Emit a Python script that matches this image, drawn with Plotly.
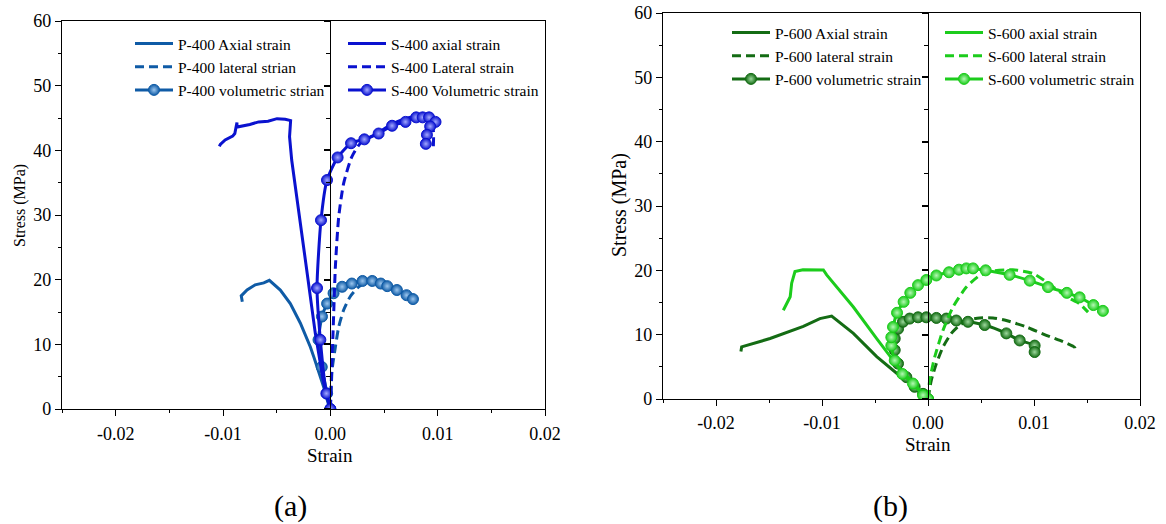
import plotly.graph_objects as go

# ---------------- data (strain, stress MPa) ----------------
# Panel (a) 400
p400_axial_x = [0, -0.00016, -0.00062, -0.0011, -0.00155, -0.00186, -0.0028, -0.00373, -0.00466,
                -0.00568, -0.0062, -0.007, -0.00776, -0.0083, -0.0082]
p400_axial_y = [0, 0.6, 3.4, 6.0, 8.1, 9.6, 13.3, 16.3, 18.4, 19.9, 19.5, 19.2, 18.4, 17.5, 16.6]

p400_lat_x = [0, 0.00008, 0.00016, 0.00047, 0.00078, 0.00124, 0.00186, 0.00264, 0.0034, 0.0039,
              0.0047, 0.0053, 0.0062, 0.0071, 0.0078]
p400_lat_y = [0, 3.0, 6.0, 9.6, 12.7, 15.3, 17.4, 18.9, 19.7, 19.8, 19.4, 19.0, 18.4, 17.6, 16.9]

p400_vol_x = [0, -0.0003, -0.0008, -0.0011, -0.00078, -0.0003, 0.0003, 0.0011, 0.002, 0.003,
              0.0039, 0.0047, 0.0053, 0.0062, 0.0071, 0.0077]
p400_vol_y = [0, 2.4, 6.5, 10.7, 14.3, 16.3, 17.9, 18.9, 19.4, 19.8, 19.8, 19.4, 19.0, 18.4, 17.6, 17.0]

s400_axial_x = [0, -0.00006, -0.00062, -0.0014, -0.00224, -0.0031, -0.0036, -0.0038, -0.0037,
                -0.0042, -0.00497, -0.0058, -0.00668, -0.0075, -0.0087, -0.0087, -0.0089, -0.0091,
                -0.0098, -0.01025, -0.01034]
s400_axial_y = [0, 0.5, 4.0, 11.7, 22.0, 32.3, 38.5, 42.1, 44.6, 44.8, 44.9, 44.5, 44.4, 44.0,
                43.6, 44.3, 42.6, 42.2, 41.6, 40.9, 40.6]

s400_lat_x = [0, 0.0001, 0.00025, 0.00047, 0.00078, 0.00124, 0.002, 0.0028, 0.00435, 0.0059,
              0.00776, 0.0093, 0.0096, 0.0096]
s400_lat_y = [0, 5.0, 11.7, 22.0, 29.7, 34.9, 39.0, 41.1, 42.6, 44.2, 45.2, 44.5, 43.0, 40.6]

s400_vol_x = [0, -0.00037, -0.00093, -0.00124, -0.00087, -0.00031, 0.00068, 0.00193, 0.00317,
              0.0045, 0.00575, 0.007, 0.0080, 0.0086, 0.0092, 0.0098, 0.0093, 0.009, 0.0089]
s400_vol_y = [0, 2.4, 10.7, 18.7, 29.2, 35.4, 38.9, 41.1, 41.7, 42.6, 43.8, 44.4, 45.1, 45.1,
              45.1, 44.4, 43.7, 42.4, 41.0]

# Panel (b) 600
p600_axial_x = [0, -0.00075, -0.00142, -0.00296, -0.00484, -0.00704, -0.00909, -0.0102, -0.01176,
                -0.0149, -0.01758, -0.01765]
p600_axial_y = [0, 1.1, 2.4, 4.0, 6.6, 10.2, 12.9, 12.5, 11.3, 9.4, 8.1, 7.4]

p600_lat_x = [0, 0.00031, 0.00079, 0.00142, 0.0022, 0.003, 0.00393, 0.00487, 0.00613, 0.00739,
              0.00928, 0.01116, 0.01274, 0.01384, 0.01384]
p600_lat_y = [0, 2.9, 5.5, 8.1, 10.2, 11.5, 12.3, 12.6, 12.6, 12.2, 11.2, 9.9, 8.9, 8.0, 7.2]

p600_vol_x = [0, -0.00047, -0.00126, -0.00204, -0.00283, -0.00314, -0.00314, -0.00283, -0.00236,
              -0.00173, -0.00094, -0.00016, 0.00079, 0.00173, 0.00267, 0.00377, 0.00535, 0.00739,
              0.00865, 0.01006, 0.01006]
p600_vol_y = [0, 0.8, 1.9, 3.4, 5.5, 7.6, 9.4, 10.9, 12.0, 12.5, 12.7, 12.7, 12.6, 12.5, 12.2,
              12.0, 11.5, 10.2, 9.1, 8.3, 7.3]

s600_axial_x = [0, -0.00107, -0.00296, -0.00484, -0.00704, -0.00956, -0.00987, -0.0118, -0.01255,
                -0.01286, -0.013, -0.01365]
s600_axial_y = [0, 1.9, 5.3, 9.4, 14.3, 19.3, 20.05, 20.1, 19.8, 18.0, 15.9, 13.8]

s600_lat_x = [0, 0.00016, 0.00063, 0.00142, 0.00236, 0.00362, 0.00487, 0.00613, 0.008, 0.0099,
              0.01116, 0.01305, 0.0143, 0.0151]
s600_lat_y = [0, 2.9, 6.5, 10.7, 14.3, 17.4, 19.2, 19.9, 20.1, 19.5, 18.2, 15.9, 14.8, 13.5]

s600_vol_x = [0, -0.00047, -0.00142, -0.00242, -0.00314, -0.00346, -0.00346, -0.0033, -0.00292,
              -0.0023, -0.00167, -0.00094, -0.00016, 0.00079, 0.00198, 0.00292, 0.00362, 0.00425,
              0.00544, 0.0077, 0.0096, 0.01132, 0.0131, 0.0143, 0.0156, 0.0165]
s600_vol_y = [0, 0.6, 2.4, 3.9, 6.0, 8.3, 9.6, 11.2, 13.4, 15.1, 16.5, 17.7, 18.5, 19.2, 19.7,
              20.1, 20.3, 20.3, 20.0, 19.3, 18.4, 17.4, 16.5, 15.8, 14.6, 13.7]

# axis ticks
x_tickvals = [-0.02, -0.01, 0.0, 0.01, 0.02]
x_ticktext = ["-0.02", "-0.01", "0.00", "0.01", "0.02"]
y_tickvals = [0, 10, 20, 30, 40, 50, 60]

# ---------------- style ----------------
C_P400 = "#0f5ba6"
C_S400 = "#0a12cf"
C_P600 = "#146c14"
C_S600 = "#1ccc1c"
FONT = "Liberation Serif, Times New Roman, serif"

# the page body margin is removed (post_script), so the figure fills the 1166x524 page
W, H = 1166, 524


def fx(p):  # page pixel x -> paper fraction
    return p / W


def fy(p):  # page pixel y -> paper fraction
    return 1 - p / H


fig = go.Figure()


def add_set(xa, ya, xb, yb, xc, yc, color, hi, names, legend, xaxis, yaxis):
    fig.add_trace(go.Scatter(x=xa, y=ya, mode="lines", name=names[0], legend=legend,
                             line=dict(color=color, width=3), xaxis=xaxis, yaxis=yaxis))
    fig.add_trace(go.Scatter(x=xb, y=yb, mode="lines", name=names[1], legend=legend,
                             line=dict(color=color, width=3, dash="9px,5px", shape="spline",
                                       smoothing=0.6),
                             xaxis=xaxis, yaxis=yaxis))
    fig.add_trace(go.Scatter(x=xc, y=yc, mode="lines+markers", name=names[2], legend=legend,
                             line=dict(color=color, width=3, shape="spline", smoothing=0.6),
                             marker=dict(symbol="circle", size=11, color=color,
                                         gradient=dict(type="radial", color=hi),
                                         line=dict(color=color, width=1)),
                             xaxis=xaxis, yaxis=yaxis))


add_set(p400_axial_x, p400_axial_y, p400_lat_x, p400_lat_y, p400_vol_x, p400_vol_y, C_P400,
        "#9cc6ee", ["P-400 Axial strain", "P-400 lateral strian", "P-400 volumetric strian"],
        "legend", "x", "y")
add_set(s400_axial_x, s400_axial_y, s400_lat_x, s400_lat_y, s400_vol_x, s400_vol_y, C_S400,
        "#a2a8ff", ["S-400 axial strain", "S-400 Lateral strain", "S-400 Volumetric strain"],
        "legend2", "x", "y")
add_set(p600_axial_x, p600_axial_y, p600_lat_x, p600_lat_y, p600_vol_x, p600_vol_y, C_P600,
        "#9cd89c", ["P-600 Axial strain", "P-600 lateral strain", "P-600 volumetric strain"],
        "legend3", "x2", "y2")
add_set(s600_axial_x, s600_axial_y, s600_lat_x, s600_lat_y, s600_vol_x, s600_vol_y, C_S600,
        "#b4f8b4", ["S-600 axial strain", "S-600 lateral strain", "S-600 volumetric strain"],
        "legend4", "x2", "y2")

# empty traces so the zero-line axes exist
fig.add_trace(go.Scatter(x=[], y=[], xaxis="x", yaxis="y3", showlegend=False))
fig.add_trace(go.Scatter(x=[], y=[], xaxis="x2", yaxis="y4", showlegend=False))

XR = [-0.025, 0.02]
YR = [0, 60]

# pixel geometry (page pixels)
ax_l, ax_r, ax_t, ax_b = 62, 545, 21, 409
bx_l, bx_r, bx_t, bx_b = 663, 1140, 13, 399
xa_dom = [fx(ax_l), fx(ax_r)]
ya_dom = [fy(ax_b), fy(ax_t)]
xb_dom = [fx(bx_l), fx(bx_r)]
yb_dom = [fy(bx_b), fy(bx_t)]
zero_frac = (0 - XR[0]) / (XR[1] - XR[0])

tickfont = dict(family=FONT, size=18, color="black")


def xaxis_cfg(dom, anchor, standoff):
    return dict(domain=dom, anchor=anchor, range=XR, tickvals=x_tickvals, ticktext=x_ticktext,
                ticks="outside", ticklen=6, tickwidth=1.3, tickcolor="black",
                minor=dict(dtick=0.005, tick0=0, ticks="outside", ticklen=3, tickcolor="black"),
                showline=True, linecolor="black", linewidth=1.3, mirror=True,
                showgrid=False, zeroline=False, tickfont=tickfont, automargin=False,
                ticklabelstandoff=standoff, ticklabeloverflow="allow")


def yaxis_cfg(dom, anchor):
    return dict(domain=dom, anchor=anchor, range=YR, tickvals=y_tickvals,
                ticks="outside", ticklen=6, tickwidth=1.3, tickcolor="black",
                minor=dict(dtick=5, tick0=0, ticks="outside", ticklen=3, tickcolor="black"),
                showline=True, linecolor="black", linewidth=1.3, mirror=True,
                showgrid=False, zeroline=False, tickfont=tickfont, automargin=False,
                ticklabeloverflow="allow")


def mid_axis(over, dom):
    return dict(overlaying=over, anchor="free", side="left",
                position=dom[0] + zero_frac * (dom[1] - dom[0]),
                range=YR, tickvals=y_tickvals, ticks="outside", ticklen=6, tickwidth=1.5,
                tickcolor="black",
                minor=dict(dtick=5, tick0=0, ticks="outside", ticklen=4, tickwidth=1.3,
                           tickcolor="black"),
                showline=True, linecolor="black", linewidth=1.3, showticklabels=False,
                showgrid=False, zeroline=False, automargin=False)


legfont = dict(family=FONT, size=15.5, color="black")


def leg(xpx, ypx):
    return dict(x=fx(xpx), y=fy(ypx), xanchor="left", yanchor="top",
                bgcolor="rgba(0,0,0,0)", borderwidth=0, font=legfont, itemwidth=38,
                tracegroupgap=0, traceorder="normal")


def label(text, xpx, ypx, size, angle=0):
    return dict(text=text, x=fx(xpx), y=fy(ypx), xref="paper", yref="paper",
                xanchor="center", yanchor="middle", showarrow=False, textangle=angle,
                font=dict(family=FONT, size=size, color="black"))


fig.update_layout(
    width=W, height=H, margin=dict(l=0, r=0, t=0, b=0, autoexpand=False),
    paper_bgcolor="white", plot_bgcolor="white",
    font=dict(family=FONT, color="black"),
    xaxis=xaxis_cfg(xa_dom, "y", 2),
    yaxis=yaxis_cfg(ya_dom, "x"),
    xaxis2=xaxis_cfg(xb_dom, "y2", 1),
    yaxis2=yaxis_cfg(yb_dom, "x2"),
    yaxis3=mid_axis("y", xa_dom),
    yaxis4=mid_axis("y2", xb_dom),
    legend=leg(130, 27),
    legend2=leg(343, 27),
    legend3=leg(727, 16),
    legend4=leg(940, 16),
    annotations=[
        label("Strain", ax_l + (ax_r - ax_l) * zero_frac, 455, 19),
        label("Strain", bx_l + (bx_r - bx_l) * zero_frac, 444, 19),
        label("Stress (MPa)", 20, 206, 16, -90),
        label("Stress (MPa)", 620, 205, 20, -90),
        label("(a)", 290, 506, 30),
        label("(b)", 890, 506, 30),
    ],
)

fig.write_html("out.html", config={"displayModeBar": False},
               post_script="document.body.style.margin='0px';")
